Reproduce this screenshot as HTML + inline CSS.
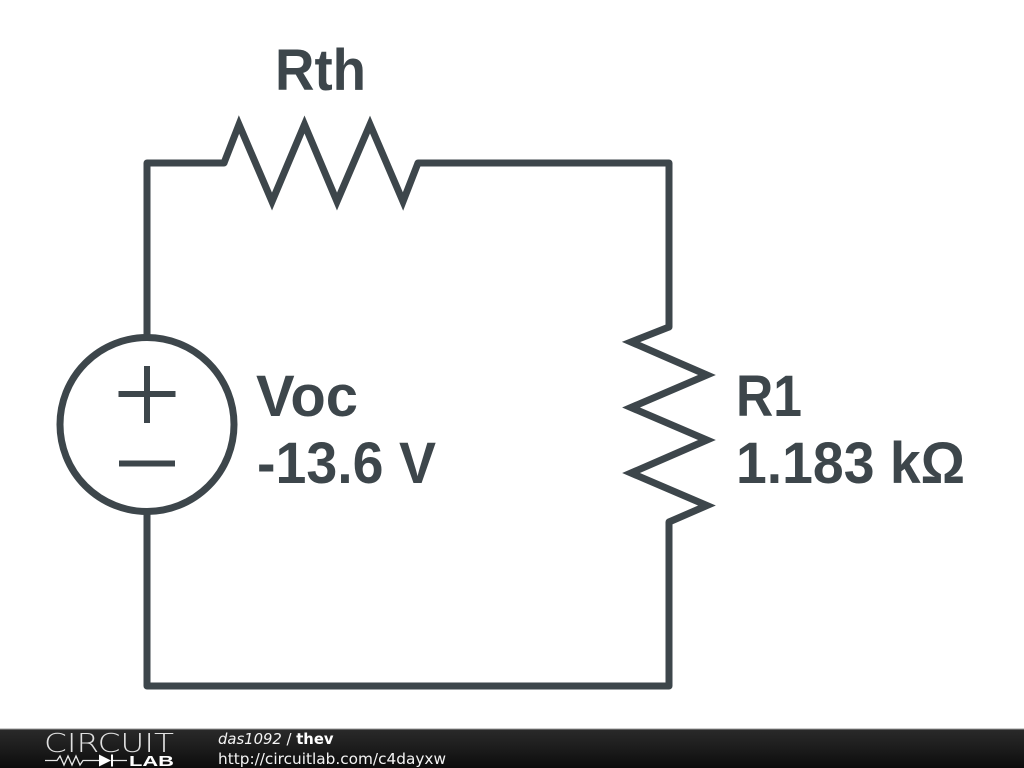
<!DOCTYPE html>
<html>
<head>
<meta charset="utf-8">
<style>
html,body{margin:0;padding:0;background:#fff;width:1024px;height:768px;overflow:hidden}
svg{display:block}
</style>
</head>
<body>
<svg width="1024" height="768" viewBox="0 0 1024 768" xmlns="http://www.w3.org/2000/svg">
<defs>
<linearGradient id="bar" x1="0" y1="0" x2="0" y2="1">
<stop offset="0" stop-color="#2a2a2a"/>
<stop offset="0.5" stop-color="#1c1c1c"/>
<stop offset="1" stop-color="#0c0c0c"/>
</linearGradient>
</defs>
<rect width="1024" height="768" fill="#fff"/>
<g fill="none" stroke="#3d464b" stroke-width="7" stroke-linejoin="miter" stroke-miterlimit="10">
<path d="M224 163L239 124.500L272 201.500L304.500 124.500L337 201.500L370 124.500L403 201.500L418 163"/>
<path d="M669 327L631 342L707 375L631 407.500L707 440L631 473L707 505.500L669 522"/>
<circle cx="147" cy="424.5" r="87"/>
</g>
<g fill="none" stroke="#3d464b" stroke-width="7" stroke-linejoin="round" stroke-linecap="round">
<path d="M147 336V163H224"/>
<path d="M418 163H669V327"/>
<path d="M669 522V686H147V512"/>
</g>
<g stroke="#3d464b" stroke-width="6" fill="none">
<path d="M118.500 394H175.500M147 366V423"/>
<path d="M119 463.500H175"/>
</g>
<g font-family="'Liberation Sans',sans-serif" font-weight="700" font-size="58" fill="#3d464b">
<text x="275" y="90" textLength="91" lengthAdjust="spacingAndGlyphs">Rth</text>
<text x="256" y="416" textLength="102" lengthAdjust="spacingAndGlyphs">Voc</text>
<text x="257" y="483" textLength="179" lengthAdjust="spacingAndGlyphs">-13.6 V</text>
<text x="736" y="416" textLength="66" lengthAdjust="spacingAndGlyphs">R1</text>
<text x="736" y="483" textLength="229" lengthAdjust="spacingAndGlyphs">1.183 kΩ</text>
</g>
<rect x="0" y="729" width="1024" height="39" fill="url(#bar)"/>
<rect x="0" y="728.500" width="1024" height="1" fill="#9a9a9a"/>
<text x="44" y="752" font-family="'DejaVu Sans ExtraLight','DejaVu Sans',sans-serif" font-weight="200" font-size="26" fill="#e0e0e0" textLength="130" lengthAdjust="spacingAndGlyphs">CIRCUIT</text>
<path d="M45 760.500H57L60 756L64 765L68 756L72 765L76 756L80 765L83 760.500H99M113 760.500H127" fill="none" stroke="#e8e8e8" stroke-width="1.300"/>
<path d="M99 754.500L111 760.500L99 766.500Z" fill="#fff"/>
<rect x="111" y="754.500" width="2" height="12" fill="#fff"/>
<text x="129" y="766" font-family="'Liberation Sans',sans-serif" font-weight="700" font-size="15" fill="#fff" textLength="45" lengthAdjust="spacingAndGlyphs">LAB</text>
<g font-family="'DejaVu Sans',sans-serif" font-size="14.800" fill="#f4f4f4">
<text x="218" y="744"><tspan font-style="italic">das1092</tspan> / <tspan font-weight="700" fill="#fff">thev</tspan></text>
<text x="218" y="764" textLength="228" lengthAdjust="spacingAndGlyphs">http://circuitlab.com/c4dayxw</text>
</g>
</svg>
</body>
</html>
